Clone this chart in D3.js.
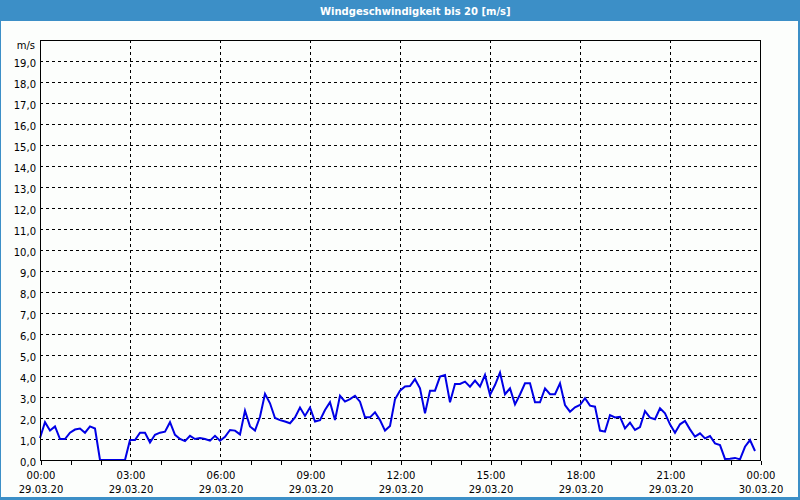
<!DOCTYPE html>
<html>
<head>
<meta charset="utf-8">
<script src="https://cdn.jsdelivr.net/npm/d3@7/dist/d3.min.js"></script>
<style>
  html, body { margin: 0; padding: 0; background: #fcfefc; }
  svg { display: block; }
</style>
</head>
<body>
<svg id="chart" width="800" height="500"></svg>
<script>
// ---- data ----
const title = "Windgeschwindigkeit bis 20 [m/s]";
const unitLabel = "m/s";
// wind speed every 10 minutes from 00:00 to 23:50 (29.03.20)
const windSpeed = [
  1.05, 1.8, 1.4, 1.6, 1.0, 1.0, 1.3, 1.45, 1.5, 1.3, 1.6, 1.5,
  0, 0, 0, 0, 0, 0, 0.95, 0.95, 1.3, 1.3, 0.83, 1.2,
  1.3, 1.35, 1.8, 1.2, 1.0, 0.9, 1.15, 1.0, 1.05, 1.0, 0.92, 1.15,
  0.92, 1.1, 1.43, 1.4, 1.22, 2.35, 1.6, 1.4, 2.06, 3.15, 2.7, 2.0,
  1.9, 1.83, 1.75, 2.03, 2.5, 2.1, 2.5, 1.83, 1.9, 2.38, 2.75, 1.9,
  3.06, 2.78, 2.9, 3.06, 2.78, 2.03, 2.03, 2.27, 1.9, 1.4, 1.62, 2.89,
  3.3, 3.5, 3.52, 3.85, 3.41, 2.22, 3.3, 3.3, 3.97, 4.05, 2.75, 3.62,
  3.62, 3.73, 3.49, 3.78, 3.49, 4.05, 3.1, 3.57, 4.16, 3.13, 3.41, 2.65,
  3.12, 3.65, 3.65, 2.75, 2.75, 3.41, 3.13, 3.13, 3.65, 2.62, 2.3, 2.51,
  2.62, 2.94, 2.59, 2.54, 1.4, 1.35, 2.14, 2.03, 2.06, 1.51, 1.78, 1.43,
  1.57, 2.33, 2.02, 1.94, 2.46, 2.22, 1.7, 1.3, 1.7, 1.86, 1.46, 1.11,
  1.27, 1.03, 1.14, 0.79, 0.71, 0.05, 0.06, 0.1, 0.03, 0.63, 0.95, 0.43
];
const yTicks = [0,1,2,3,4,5,6,7,8,9,10,11,12,13,14,15,16,17,18,19];
const xTickHours = [0,3,6,9,12,15,18,21,24];
const xTimeLabels = ["00:00","03:00","06:00","09:00","12:00","15:00","18:00","21:00","00:00"];
const xDateLabels = ["29.03.20","29.03.20","29.03.20","29.03.20","29.03.20","29.03.20","29.03.20","29.03.20","30.03.20"];
const minorHours = d3.range(0, 25, 1);

// ---- layout ----
const W = 800, H = 500;
const plot = { left: 40, top: 40, right: 760, bottom: 460 };
const frameBlue = "#3c8fc7";
const font = "'DejaVu Sans', sans-serif";

const svg = d3.select("#chart");

// window frame
svg.append("rect").attr("x", 0).attr("y", 0).attr("width", W).attr("height", H).attr("fill", "#fcfefc");
svg.append("rect").attr("x", 0).attr("y", 0).attr("width", W).attr("height", 21).attr("fill", frameBlue);
svg.append("rect").attr("x", 0).attr("y", 0).attr("width", 1).attr("height", H).attr("fill", frameBlue);
svg.append("rect").attr("x", 798).attr("y", 0).attr("width", 2).attr("height", H).attr("fill", frameBlue);
svg.append("rect").attr("x", 0).attr("y", 497).attr("width", W).attr("height", 3).attr("fill", frameBlue);

svg.append("text")
  .attr("x", 320).attr("y", 14.5)
  .attr("fill", "#ffffff")
  .attr("font-family", font)
  .attr("font-weight", "bold")
  .attr("font-size", 10)
  .text(title);

// scales
const x = d3.scaleLinear().domain([0, 24]).range([plot.left, plot.right]);
const y = d3.scaleLinear().domain([0, 20]).range([plot.bottom, plot.top]);

// grid
const grid = svg.append("g").attr("stroke", "#000").attr("stroke-width", 1).attr("stroke-dasharray", "3,3").attr("shape-rendering", "crispEdges");
grid.selectAll("line.h").data(yTicks.filter(v => v > 0)).enter().append("line")
  .attr("x1", plot.left).attr("x2", plot.right)
  .attr("y1", d => Math.round(y(d)) + 0.5).attr("y2", d => Math.round(y(d)) + 0.5);
grid.selectAll("line.v").data(xTickHours.filter(h => h > 0 && h < 24)).enter().append("line")
  .attr("y1", plot.top).attr("y2", plot.bottom)
  .attr("x1", d => Math.round(x(d)) + 0.5).attr("x2", d => Math.round(x(d)) + 0.5);

// minor ticks below x axis
const minorAxis = d3.axisBottom(x).tickValues(minorHours).tickSize(4).tickFormat("");
const gMinor = svg.append("g").attr("transform", `translate(0.5,${plot.bottom + 0.5})`).call(minorAxis);
gMinor.select(".domain").remove();
gMinor.selectAll("line").attr("stroke", "#000").attr("shape-rendering", "crispEdges");

// x labels
const xAxis = d3.axisBottom(x).tickValues(xTickHours).tickSize(0).tickFormat("");
const gx = svg.append("g").attr("transform", `translate(0.5,${plot.bottom})`).call(xAxis);
gx.select(".domain").remove();
gx.selectAll(".tick").each(function(d, i) {
  const t = d3.select(this);
  t.append("text").attr("x", 0).attr("y", 19).attr("text-anchor", "middle")
    .attr("fill", "#000").attr("font-family", font).attr("font-size", 10).text(xTimeLabels[i]);
  t.append("text").attr("x", 0).attr("y", 33).attr("text-anchor", "middle")
    .attr("fill", "#000").attr("font-family", font).attr("font-size", 10).text(xDateLabels[i]);
});

// y labels
const yAxis = d3.axisLeft(y).tickValues(yTicks).tickSize(0).tickPadding(4)
  .tickFormat(d => d3.format(".1f")(d).replace(".", ","));
const gy = svg.append("g").attr("transform", `translate(${plot.left},0)`).call(yAxis);
gy.select(".domain").remove();
gy.selectAll("text").attr("font-family", font).attr("font-size", 10).attr("fill", "#000")
  .attr("dy", null).attr("y", 5).attr("x", -4);

svg.append("text").attr("x", 35).attr("y", 49).attr("text-anchor", "end")
  .attr("font-family", font).attr("font-size", 10).attr("fill", "#000").text(unitLabel);

// data line
const line = d3.line().x((d, i) => x(i / 6)).y(d => y(d));
svg.append("path").datum(windSpeed)
  .attr("d", line)
  .attr("fill", "none")
  .attr("stroke", "#0000e6")
  .attr("stroke-width", 2)
  .attr("stroke-linejoin", "miter");

// plot border
svg.append("rect")
  .attr("x", plot.left + 0.5).attr("y", plot.top + 0.5)
  .attr("width", plot.right - plot.left).attr("height", plot.bottom - plot.top)
  .attr("fill", "none").attr("stroke", "#000").attr("stroke-width", 1)
  .attr("shape-rendering", "crispEdges");
</script>
</body>
</html>
